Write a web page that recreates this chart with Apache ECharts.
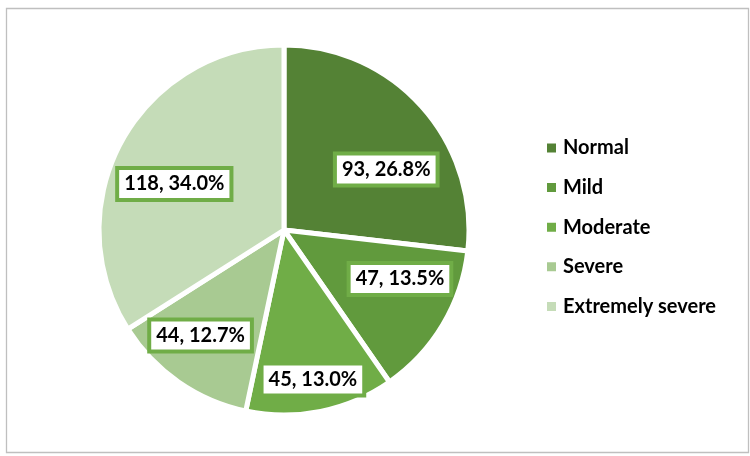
<!DOCTYPE html>
<html>
<head>
<meta charset="utf-8">
<script src="https://cdn.jsdelivr.net/npm/echarts@6/dist/echarts.min.js"></script>
<style>html,body{margin:0;padding:0;background:#fff}#c{width:750px;height:456px}</style>
</head>
<body>
<div id="c"></div>
<script>
const categories = ['Normal', 'Mild', 'Moderate', 'Severe', 'Extremely severe'];
const counts = [93, 47, 45, 44, 118];
const percents = ['26.8%', '13.5%', '13.0%', '12.7%', '34.0%'];
const colors = ['#548235', '#619a3d', '#70ad47', '#a8ca92', '#c5dcb8'];
const labelShift = [[31, 3], [34, 0], [10, 56], [-29, 27], [-26, 0]];

const chart = echarts.init(document.getElementById('c'), null, {renderer: 'canvas'});
const FONT = 'Lato, "Open Sans", sans-serif';
chart.setOption({
  animation: false,
  graphic: [{
    type: 'rect', left: 4, top: 6, shape: {width: 742, height: 444},
    style: {fill: 'none', stroke: '#bfbfbf', lineWidth: 1.3}, silent: true
  }],
  legend: {
    orient: 'vertical', left: 545, top: 137, padding: 0,
    itemWidth: 11, itemHeight: 11, itemGap: 17.6,
    icon: 'rect',
    textStyle: {fontFamily: FONT, fontWeight: 'bold', fontSize: 20, color: '#000', lineHeight: 22, padding: [0,0,0,1]},
    data: categories
  },
  series: [{
    type: 'pie',
    center: [284, 230],
    radius: 185,
    startAngle: 90,
    clockwise: true,
    silent: true,
    emphasis: {disabled: true},
    itemStyle: {borderColor: '#fff', borderWidth: 5},
    label: {
      show: true, position: 'inside',
      formatter: p => counts[p.dataIndex] + ', ' + percents[p.dataIndex],
      fontFamily: FONT, fontWeight: 'bold', fontSize: 20, color: '#000',
      backgroundColor: '#fff', borderColor: '#70ad47', borderWidth: 4,
      padding: [3, 5, 3, 5], lineHeight: 22
    },
    labelLayout: p => ({dx: labelShift[p.dataIndex][0], dy: labelShift[p.dataIndex][1]}),
    data: categories.map((n, i) => ({name: n, value: counts[i], itemStyle: {color: colors[i]}}))
  }]
});
</script>
</body>
</html>
